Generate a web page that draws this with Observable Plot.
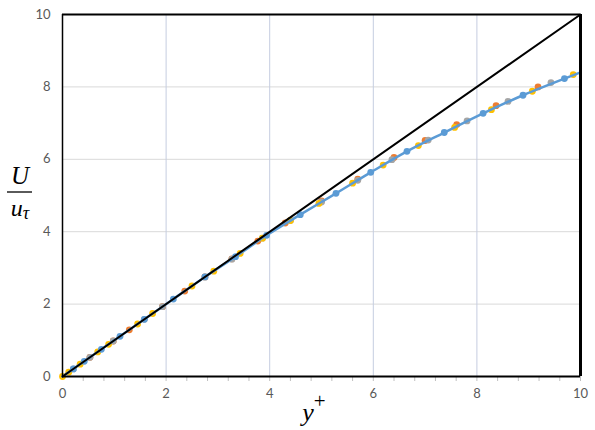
<!DOCTYPE html>
<html><head><meta charset="utf-8">
<script src="https://cdn.jsdelivr.net/npm/d3@7"></script>
<script src="https://cdn.jsdelivr.net/npm/@observablehq/plot@0.6"></script>
<style>body{margin:0;background:#fff} #chart{position:relative;width:595px;height:430px}</style>
</head><body><div id="chart"></div>
<script>
// Blue series (line + markers)
const blueYPlus = [0, 0.21, 0.42, 0.75, 1.11, 1.58, 2.14, 2.75, 3.34, 3.94, 4.59, 5.28, 5.95, 6.65, 7.37, 8.12, 8.89, 9.69, 10];
const blueU     = [0, 0.21, 0.42, 0.75, 1.11, 1.58, 2.14, 2.75, 3.31, 3.90, 4.47, 5.06, 5.64, 6.22, 6.74, 7.27, 7.77, 8.23, 8.40];
// Yellow series
const yellowYPlus = [0, 0.12, 0.34, 0.68, 0.89, 1.45, 1.74, 2.50, 2.92, 3.43, 3.86, 4.40, 4.95, 5.60, 6.19, 6.87, 7.57, 8.28, 9.07, 9.86];
const yellowU     = [0, 0.12, 0.34, 0.68, 0.89, 1.45, 1.74, 2.50, 2.91, 3.40, 3.82, 4.31, 4.78, 5.34, 5.84, 6.38, 6.88, 7.37, 7.88, 8.34];
// Orange series
const orangeYPlus = [0.53, 0.98, 1.29, 1.93, 2.36, 2.75, 3.27, 3.77, 4.30, 5.00, 5.70, 6.40, 7.00, 7.61, 8.37, 9.18];
const orangeU     = [0.53, 0.98, 1.29, 1.93, 2.36, 2.75, 3.25, 3.74, 4.24, 4.85, 5.45, 6.05, 6.52, 6.96, 7.48, 8.00];
// Gray series
const grayYPlus = [0.21, 0.53, 0.98, 1.58, 1.93, 2.75, 3.27, 3.86, 4.40, 5.00, 5.70, 6.36, 7.06, 7.81, 8.60, 9.43];
const grayU     = [0.21, 0.53, 0.98, 1.58, 1.93, 2.75, 3.24, 3.82, 4.31, 4.82, 5.42, 5.99, 6.53, 7.06, 7.60, 8.12];
// Reference line U+ = y+
const linearYPlus = [0, 10];
const linearU     = [0, 10];
// Axis ticks
const majorTicks = [0, 2, 4, 6, 8, 10];
const gridTicks  = [2, 4, 6, 8];
const minorTicks = [0.4, 0.8, 1.2, 1.6, 2, 2.4, 2.8, 3.2, 3.6, 4, 4.4, 4.8, 5.2, 5.6, 6, 6.4, 6.8, 7.2, 7.6, 8, 8.4, 8.8, 9.2, 9.6, 10];

const rows = (xs, us) => xs.map((x, i) => ({x, u: us[i]}));
const blue = rows(blueYPlus, blueU);
const yellow = rows(yellowYPlus, yellowU);
const orange = rows(orangeYPlus, orangeU);
const gray = rows(grayYPlus, grayU);
const linear = rows(linearYPlus, linearU);

const plot = Plot.plot({
  width: 595, height: 430,
  marginLeft: 62, marginRight: 15, marginTop: 14, marginBottom: 54,
  style: {fontFamily: "Lato, 'Open Sans', sans-serif", fontSize: "13px", color: "#595959", background: "#fff"},
  x: {domain: [0, 10], label: null},
  y: {domain: [0, 10], label: null},
  marks: [
    Plot.gridY(gridTicks, {stroke: "#d9d9d9", strokeOpacity: 1}),
    Plot.gridX(gridTicks, {stroke: "#c5cde0", strokeOpacity: 1}),
    Plot.axisX(minorTicks, {tickSize: 5, tickFormat: () => "", stroke: "#bfbfbf", strokeOpacity: 1}),
    Plot.axisX(majorTicks, {tickSize: 0, tickPadding: 12, fill: "#595959"}),
    Plot.axisY(majorTicks, {tickSize: 0, tickPadding: 12, fill: "#595959"}),
    Plot.dot(orange, {x: "x", y: "u", r: 3.4, fill: "#ed7d31", stroke: "none"}),
    Plot.dot(gray, {x: "x", y: "u", r: 3.4, fill: "#a5a5a5", stroke: "none"}),
    Plot.dot(yellow, {x: "x", y: "u", r: 3.4, fill: "#ffc000", stroke: "none"}),
    Plot.line(blue, {x: "x", y: "u", stroke: "#5b9bd5", strokeWidth: 2.5, curve: "monotone-x"}),
    Plot.dot(blue.slice(1, -1), {x: "x", y: "u", r: 3.4, fill: "#5b9bd5", stroke: "none"}),
    Plot.line(linear, {x: "x", y: "u", stroke: "#000", strokeWidth: 2}),
    Plot.ruleY([0], {stroke: "#000", strokeWidth: 2}),
    Plot.ruleY([10], {stroke: "#000", strokeWidth: 2}),
    Plot.ruleX([0], {stroke: "#000", strokeWidth: 1.5}),
    Plot.ruleX([10], {stroke: "#000", strokeWidth: 3})
  ]
});
document.getElementById("chart").appendChild(plot);

// Axis titles (math style)
const svg = d3.select(plot);
const serif = "'Liberation Serif', 'DejaVu Serif', serif";
const xt = svg.append("text").attr("x", 314).attr("y", 421)
  .attr("font-family", serif).attr("font-size", 26).attr("fill", "#000").attr("font-style", "italic");
xt.append("tspan").text("y");
xt.append("tspan").attr("dy", -13).attr("font-size", 21).attr("font-style", "normal").text("+");

svg.append("text").attr("x", 20).attr("y", 184).attr("text-anchor", "middle")
  .attr("font-family", serif).attr("font-size", 25).attr("font-style", "italic").attr("fill", "#000").text("U");
svg.append("line").attr("x1", 7).attr("x2", 32).attr("y1", 192).attr("y2", 192)
  .attr("stroke", "#000").attr("stroke-width", 1.3);
const yt = svg.append("text").attr("x", 20).attr("y", 216).attr("text-anchor", "middle")
  .attr("font-family", serif).attr("font-size", 24).attr("font-style", "italic").attr("fill", "#000");
yt.append("tspan").text("u");
yt.append("tspan").attr("dy", 3).attr("font-size", 18).text("τ");
</script></body></html>
